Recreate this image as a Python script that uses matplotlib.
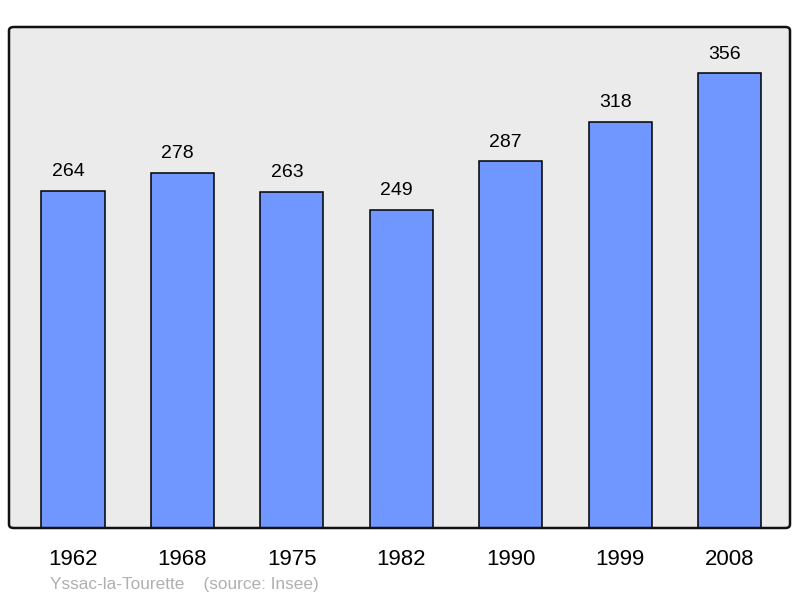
import matplotlib
matplotlib.use("Agg")
import matplotlib.pyplot as plt
from matplotlib.patches import FancyBboxPatch

years = ["1962", "1968", "1975", "1982", "1990", "1999", "2008"]
population = [264, 278, 263, 249, 287, 318, 356]
source_text = "Yssac-la-Tourette    (source: Insee)"

plt.rcParams['font.family'] = ['Liberation Sans', 'DejaVu Sans']

W, H = 800, 598
fig = plt.figure(figsize=(W / 100, H / 100), dpi=100)
left, right, top, bottom = 9, 790, 27, 528
ax = fig.add_axes([left / W, (H - bottom) / H, (right - left) / W, (bottom - top) / H])
ax.set_facecolor('#EBEBEB')
for s in ax.spines.values():
    s.set_visible(False)

x = list(range(len(years)))
bars = ax.bar(x, population, width=0.576, color='#7096FF', edgecolor='black', linewidth=1.1, zorder=2)
ax.set_xlim(-0.585, 6.553)
ax.set_ylim(0, 392)
ax.set_yticks([])
ax.set_xticks(x)
ax.set_xticklabels(years, fontsize=16)
ax.tick_params(axis='x', length=0, pad=15)

for xi, v in zip(x, population):
    ax.annotate(str(v), (xi, v), xytext=(-3.5, 7.5), textcoords='offset points',
                ha='center', va='bottom', fontsize=14)

frame = FancyBboxPatch((left / W, (H - bottom) / H), (right - left) / W, (bottom - top) / H,
                       boxstyle='round,pad=0,rounding_size=0.006', transform=fig.transFigure,
                       fill=False, edgecolor='#111111', linewidth=1.8, zorder=5)
fig.patches.append(frame)

fig.text(50 / W, 1 - 584 / H, source_text, fontsize=12.4, color='#B0B0B0', ha='left', va='center')

fig.savefig('out.png', dpi=100)
